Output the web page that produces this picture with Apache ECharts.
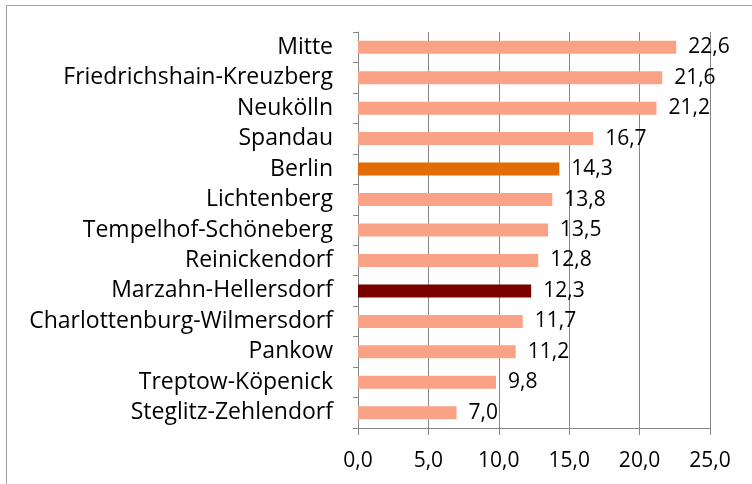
<!DOCTYPE html>
<html>
<head>
<meta charset="utf-8">
<script src="https://cdn.jsdelivr.net/npm/echarts@6/dist/echarts.min.js"></script>
<style>
html, body { margin: 0; padding: 0; background: #fff; }
#main { width: 752px; height: 484px; }
</style>
</head>
<body>
<div id="main"></div>
<script>
// Bezirke, von oben nach unten
var bezirke = ['Mitte', 'Friedrichshain-Kreuzberg', 'Neukölln', 'Spandau', 'Berlin', 'Lichtenberg',
    'Tempelhof-Schöneberg', 'Reinickendorf', 'Marzahn-Hellersdorf', 'Charlottenburg-Wilmersdorf',
    'Pankow', 'Treptow-Köpenick', 'Steglitz-Zehlendorf'];
var werte = [22.6, 21.6, 21.2, 16.7, 14.3, 13.8, 13.5, 12.8, 12.3, 11.7, 11.2, 9.8, 7.0];
var farben = {
    'Berlin': '#E36C09',
    'Marzahn-Hellersdorf': '#7A0000'
};
var standardFarbe = '#F9A285';

function komma(v) {
    return Number(v).toFixed(1).replace('.', ',');
}

var myChart = echarts.init(document.getElementById('main'));

var daten = [];
for (var i = 0; i < werte.length; i++) {
    daten.push({
        value: werte[i],
        itemStyle: { color: farben[bezirke[i]] || standardFarbe }
    });
}

var option = {
    animation: false,
    textStyle: { fontFamily: 'Open Sans' },
    graphic: [{
        type: 'rect',
        shape: { x: 6.5, y: 5.5, width: 800, height: 600 },
        style: { fill: 'none', stroke: '#A0A0A0', lineWidth: 1 }
    }],
    grid: { left: 358, right: 42, top: 32, bottom: 56 },
    xAxis: {
        type: 'value',
        min: 0,
        max: 25,
        interval: 5,
        axisLine: { show: true, lineStyle: { color: '#868686' } },
        axisTick: { show: true, length: 7, lineStyle: { color: '#868686' } },
        splitLine: { show: true, lineStyle: { color: '#868686', width: 1 } },
        axisLabel: {
            color: '#000',
            fontSize: 21,
            margin: 23,
            formatter: komma
        }
    },
    yAxis: {
        type: 'category',
        inverse: true,
        data: bezirke,
        axisLine: { show: true, lineStyle: { color: '#868686' } },
        axisTick: { show: true, length: 5, lineStyle: { color: '#868686' } },
        axisLabel: { color: '#000', fontSize: 23, margin: 25 }
    },
    series: [{
        type: 'bar',
        data: daten,
        barWidth: 13,
        label: {
            show: true,
            position: 'right',
            distance: 12,
            color: '#000',
            fontSize: 21,
            formatter: function (p) { return komma(p.value); }
        }
    }]
};

myChart.setOption(option);
</script>
</body>
</html>
